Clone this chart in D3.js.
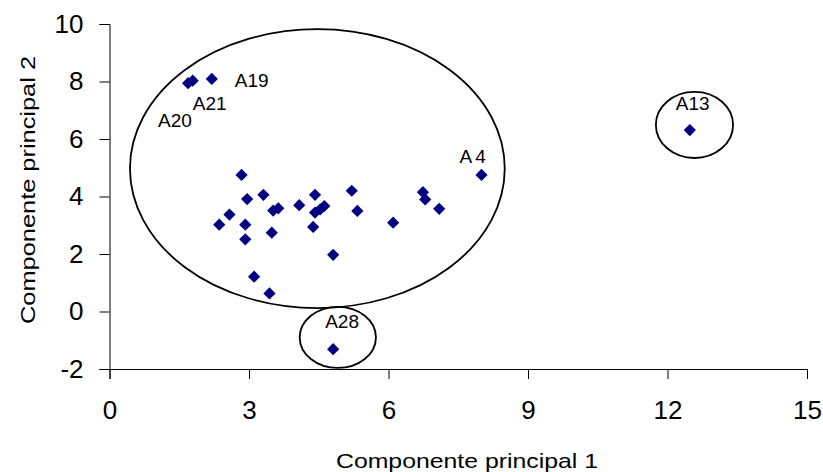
<!DOCTYPE html>
<html>
<head>
<meta charset="utf-8"/>
<script src="https://cdn.jsdelivr.net/npm/d3@7"></script>
<style>
  body { margin: 0; background: #fff; }
  text { font-family: "Liberation Sans", Arial, sans-serif; fill: #000; }
</style>
</head>
<body>
<script>
// scores on the first two principal components
var pc1 = [2.84, 2.96, 3.31, 2.58, 2.36, 2.92, 2.92, 3.49, 3.52, 3.63,
           4.08, 4.42, 4.42, 4.53, 4.62, 4.38, 4.81, 3.11, 3.44, 5.21,
           5.33, 6.10, 6.74, 6.79, 7.09, 8.00, 12.48, 4.81, 1.69, 1.79, 2.20];
var pc2 = [4.75, 3.91, 4.06, 3.37, 3.02, 3.02, 2.51, 2.74, 3.51, 3.59,
           3.70, 4.06, 3.44, 3.55, 3.67, 2.94, 1.97, 1.21, 0.63, 4.20,
           3.50, 3.09, 4.15, 3.90, 3.57, 4.75, 6.31, -1.31, 7.94, 8.03, 8.09];
var names = ["", "", "", "", "", "", "", "", "", "",
             "", "", "", "", "", "", "", "", "", "",
             "", "", "", "", "", "A4", "A13", "A28", "A20", "A21", "A19"];

// label offsets in pixels from the point
var labelDx = {A4: -22, A13: -14, A28: -8, A20: -30, A21: 0, A19: 23};
var labelDy = {A4: -12, A13: -20, A28: -21, A20: 44, A21: 29, A19: 8};

// groups drawn as ellipses (centre and radii in data units)
var ellCx = [4.47, 12.58, 4.91];
var ellCy = [4.97, 6.49, -0.90];
var ellRx = [4.03, 0.83, 0.82];
var ellRy = [4.85, 1.15, 1.06];

var xTicks = [0, 3, 6, 9, 12, 15];
var yTicks = [-2, 0, 2, 4, 6, 8, 10];

var w = 823, h = 472;
var svg = d3.select("body").append("svg")
    .attr("width", w)
    .attr("height", h);

var x = d3.scaleLinear().domain([0, 15]).range([109.5, 807]);
var y = d3.scaleLinear().domain([-2, 10]).range([369, 24]);

svg.append("g")
    .attr("transform", "translate(0," + y(-2) + ")")
    .call(d3.axisBottom(x).tickValues(xTicks).tickSize(10).tickPadding(22)
          .tickFormat(function(d) { return String(d); }))
    .call(function(g) {
        g.selectAll("text").style("font-size", "26px");
        g.selectAll("path, line").attr("stroke", "#000");
    })
    .attr("font-family", null);

svg.append("g")
    .attr("transform", "translate(" + x(0) + ",0)")
    .call(d3.axisLeft(y).tickValues(yTicks).tickSize(10).tickPadding(16)
          .tickFormat(function(d) { return String(d); }))
    .call(function(g) {
        g.selectAll("text").style("font-size", "26px");
        g.selectAll("path, line").attr("stroke", "#000");
    })
    .attr("font-family", null);

// ellipses
var ells = d3.range(ellCx.length);
svg.selectAll("ellipse")
    .data(ells)
    .enter()
    .append("ellipse")
    .attr("cx", function(i) { return x(ellCx[i]); })
    .attr("cy", function(i) { return y(ellCy[i]); })
    .attr("rx", function(i) { return x(ellRx[i]) - x(0); })
    .attr("ry", function(i) { return y(0) - y(ellRy[i]); })
    .attr("fill", "none")
    .attr("stroke", "#000")
    .attr("stroke-width", 1.8);

// points
var pts = d3.range(pc1.length);
svg.selectAll("path.pt")
    .data(pts)
    .enter()
    .append("path")
    .attr("class", "pt")
    .attr("d", d3.symbol().type(d3.symbolDiamond2).size(95))
    .attr("transform", function(i) {
        return "translate(" + x(pc1[i]) + "," + y(pc2[i]) + ")";
    })
    .attr("fill", "#000080");

// labels
svg.selectAll("text.lab")
    .data(pts.filter(function(i) { return names[i] != ""; }))
    .enter()
    .append("text")
    .attr("class", "lab")
    .attr("x", function(i) { return x(pc1[i]) + labelDx[names[i]]; })
    .attr("y", function(i) { return y(pc2[i]) + labelDy[names[i]]; })
    .style("font-size", "19px")
    .style("letter-spacing", function(i) { return names[i] == "A4" ? "3px" : "0px"; })
    .text(function(i) { return names[i]; });

svg.append("text")
    .attr("x", 467)
    .attr("y", 468)
    .attr("text-anchor", "middle")
    .attr("textLength", 262)
    .attr("lengthAdjust", "spacingAndGlyphs")
    .style("font-size", "21px")
    .text("Componente principal 1");

svg.append("text")
    .attr("transform", "translate(35,190) rotate(-90)")
    .attr("text-anchor", "middle")
    .attr("textLength", 268)
    .attr("lengthAdjust", "spacingAndGlyphs")
    .style("font-size", "21px")
    .text("Componente principal 2");
</script>
</body>
</html>
